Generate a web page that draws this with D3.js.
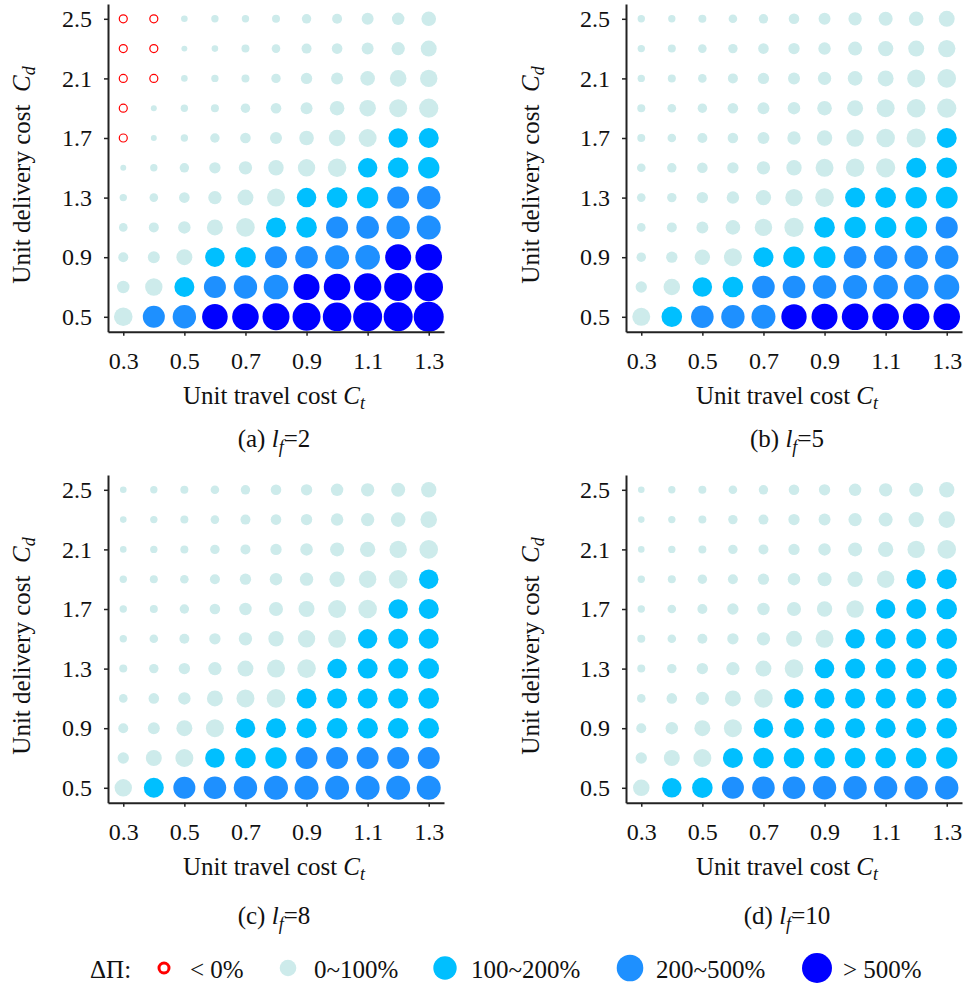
<!DOCTYPE html>
<html>
<head>
<meta charset="utf-8">
<script src="https://cdn.jsdelivr.net/npm/d3@7"></script>
<style>
  body { margin: 0; background: #fff; }
  svg text { font-family: "Liberation Serif", "Times New Roman", serif; fill: #111; }
</style>
</head>
<body>
<svg id="chart" width="964" height="990"></svg>
<script>
const travelCost = [0.3, 0.4, 0.5, 0.6, 0.7, 0.8, 0.9, 1.0, 1.1, 1.2, 1.3];
const deliveryCost = [2.5, 2.3, 2.1, 1.9, 1.7, 1.5, 1.3, 1.1, 0.9, 0.7, 0.5];
const travelTicks = [0.3, 0.5, 0.7, 0.9, 1.1, 1.3];
const deliveryTicks = [0.5, 0.9, 1.3, 1.7, 2.1, 2.5];

// profit gain ΔΠ (%), one row per delivery cost, top row is Cd = 2.5
const gainLf2 = [
  [-12, -8, 3.0, 3.7, 3.7, 4.4, 6.5, 7.6, 13, 15, 27],
  [-10, -6, 2.5, 3.0, 4.4, 5.2, 7.6, 9.0, 13, 19, 39],
  [-8, -4, 3.0, 3.7, 4.4, 6.5, 11, 13, 27, 46, 58],
  [-5, 2.5, 3.7, 4.4, 6.5, 9.0, 13, 27, 46, 68, 95],
  [-3, 2.5, 3.7, 6.5, 9.0, 13, 27, 46, 68, 102, 118],
  [2.5, 3.7, 6.5, 11, 19, 33, 58, 80, 102, 139, 173],
  [3.7, 5.2, 9.0, 19, 39, 68, 102, 139, 173, 205, 299],
  [5.2, 7.6, 15, 39, 80, 118, 139, 205, 240, 299, 353],
  [7.6, 13, 39, 102, 139, 205, 240, 353, 416, 611, 719],
  [15, 58, 118, 205, 299, 416, 611, 719, 896, 1056, 1245],
  [80, 205, 299, 547, 719, 803, 1056, 1245, 1390, 1390, 1828]
];
const gainLf5 = [
  [3.7, 3.7, 4.4, 5.2, 6.5, 9.0, 13, 19, 23, 27, 39],
  [3.7, 4.4, 5.2, 6.5, 9.0, 11, 15, 23, 33, 39, 58],
  [3.7, 4.4, 5.2, 7.6, 11, 13, 19, 27, 39, 68, 80],
  [4.4, 5.2, 6.5, 9.0, 13, 15, 27, 39, 68, 80, 95],
  [4.4, 5.2, 7.6, 9.0, 13, 19, 33, 58, 80, 95, 118],
  [5.2, 6.5, 9.0, 11, 19, 33, 68, 80, 95, 118, 139],
  [5.2, 6.5, 11, 15, 33, 58, 80, 118, 139, 173, 195],
  [5.2, 7.6, 13, 27, 58, 95, 139, 173, 173, 195, 205],
  [6.5, 11, 33, 68, 118, 173, 195, 240, 299, 299, 299],
  [11, 46, 102, 139, 240, 240, 299, 353, 416, 416, 480],
  [68, 139, 240, 299, 353, 510, 611, 719, 719, 719, 719]
];
const gainLf8 = [
  [3.0, 3.7, 4.4, 5.2, 6.5, 9.0, 11, 15, 19, 23, 33],
  [3.0, 3.7, 4.4, 5.2, 7.6, 9.0, 11, 15, 19, 27, 46],
  [3.0, 3.7, 4.4, 6.5, 7.6, 11, 15, 23, 33, 58, 80],
  [3.7, 4.4, 5.2, 7.6, 11, 15, 19, 33, 58, 80, 102],
  [3.7, 4.4, 6.5, 9.0, 15, 23, 39, 68, 80, 102, 118],
  [3.7, 5.2, 7.6, 11, 19, 33, 58, 68, 102, 118, 118],
  [4.4, 6.5, 11, 19, 39, 68, 80, 102, 118, 118, 139],
  [5.2, 9.0, 15, 39, 68, 80, 118, 118, 118, 118, 139],
  [7.6, 13, 39, 68, 102, 118, 118, 139, 139, 139, 139],
  [11, 39, 68, 102, 139, 173, 205, 205, 205, 205, 205],
  [58, 118, 205, 240, 299, 353, 353, 353, 353, 353, 353]
];
const gainLf10 = [
  [3.0, 3.7, 4.4, 5.2, 6.5, 9.0, 11, 15, 19, 23, 33],
  [3.0, 3.7, 4.4, 6.5, 7.6, 11, 13, 19, 23, 33, 46],
  [3.0, 3.7, 4.4, 6.5, 7.6, 11, 15, 23, 33, 58, 80],
  [3.7, 4.4, 6.5, 7.6, 11, 15, 23, 33, 58, 102, 118],
  [3.7, 5.2, 7.6, 11, 15, 23, 33, 58, 102, 118, 139],
  [4.4, 5.2, 7.6, 11, 19, 39, 68, 102, 118, 118, 139],
  [4.4, 6.5, 11, 19, 39, 80, 102, 118, 118, 118, 139],
  [5.2, 9.0, 19, 39, 80, 102, 118, 118, 118, 118, 118],
  [7.6, 15, 39, 68, 102, 118, 118, 118, 118, 118, 139],
  [11, 39, 68, 118, 139, 139, 139, 139, 139, 139, 173],
  [46, 102, 139, 205, 240, 240, 299, 299, 299, 299, 299]
];

const panelTags = ['(a)', '(b)', '(c)', '(d)'];
const lfValues = [2, 5, 8, 10];
const panelGains = [gainLf2, gainLf5, gainLf8, gainLf10];
const bandLimits = [0, 100, 200, 500];
const bandLabels = ['< 0%', '0~100%', '100~200%', '200~500%', '> 500%'];

const bandColors = ['#ff0000', '#cdebeb', '#00bfff', '#1e90ff', '#0000ff'];
const color = d3.scaleThreshold().domain(bandLimits).range(bandColors);
const radius = d3.scaleLog().domain([1, 1000]).range([1.3, 13.9]);
const fmt = d3.format('.1f');

const svg = d3.select('#chart');

const colX = [0, 518];
const rowY = [0, 471];
const xTitleX = [274, 787];
const yTitleX = [30, 539];
const captionY = [447, 924];

function styleAxis(sel) {
  sel.attr('font-family', null).attr('font-size', 24);
  sel.select('.domain').attr('stroke', '#222').attr('stroke-width', 2);
  sel.selectAll('.tick line').attr('stroke', '#222').attr('stroke-width', 1.5);
  sel.selectAll('.tick text').attr('fill', '#111');
}

panelGains.forEach((gain, i) => {
  const col = i % 2, row = Math.floor(i / 2);
  const ox = colX[col], oy = rowY[row];
  const x = d3.scaleLinear().domain([0.25, 1.35]).range([108 + ox, 444 + ox]);
  const y = d3.scaleLinear().domain([0.4, 2.6]).range([331.7 + oy, 3.9 + oy]);
  const g = svg.append('g');

  const cells = [];
  gain.forEach((r, ri) => r.forEach((v, ci) => {
    cells.push({ ct: travelCost[ci], cd: deliveryCost[ri], v: v });
  }));

  g.append('g').selectAll('circle')
    .data(cells)
    .join('circle')
    .attr('cx', d => x(d.ct))
    .attr('cy', d => y(d.cd))
    .attr('r', d => d.v < 0 ? 4 : radius(d.v))
    .attr('fill', d => d.v < 0 ? 'none' : color(d.v))
    .attr('stroke', d => d.v < 0 ? color(d.v) : null)
    .attr('stroke-width', d => d.v < 0 ? 1.2 : null);

  g.append('g')
    .attr('transform', `translate(0,${331.7 + oy})`)
    .call(d3.axisBottom(x).tickValues(travelTicks).tickFormat(fmt)
      .tickSize(4).tickSizeOuter(0).tickPadding(16))
    .call(styleAxis);

  g.append('g')
    .attr('transform', `translate(${108 + ox},0)`)
    .call(d3.axisLeft(y).tickValues(deliveryTicks).tickFormat(fmt)
      .tickSize(4).tickSizeOuter(0).tickPadding(12))
    .call(styleAxis);

  // x title
  const xt = g.append('text')
    .attr('x', xTitleX[col])
    .attr('y', 404 + oy)
    .attr('text-anchor', 'middle')
    .attr('font-size', 25);
  xt.append('tspan').text('Unit travel cost ');
  xt.append('tspan').attr('font-style', 'italic').text('C');
  xt.append('tspan').attr('font-style', 'italic').attr('font-size', 18).attr('dy', 5).text('t');

  // y title
  const yt = g.append('text')
    .attr('transform', `translate(${yTitleX[col]},${175 + oy}) rotate(-90)`)
    .attr('text-anchor', 'middle')
    .attr('font-size', 25);
  yt.append('tspan').text('Unit delivery cost\u00a0\u00a0');
  yt.append('tspan').attr('font-style', 'italic').text('C');
  yt.append('tspan').attr('font-style', 'italic').attr('font-size', 18).attr('dy', 5).text('d');

  // caption
  const cap = g.append('text')
    .attr('x', xTitleX[col])
    .attr('y', captionY[row])
    .attr('text-anchor', 'middle')
    .attr('font-size', 25);
  cap.append('tspan').text(panelTags[i] + ' ');
  cap.append('tspan').attr('font-style', 'italic').text('l');
  cap.append('tspan').attr('font-style', 'italic').attr('font-size', 18).attr('dy', 6).text('f');
  cap.append('tspan').attr('dy', -6).text('=' + lfValues[i]);
});

// legend
const legend = svg.append('g');
legend.append('text')
  .attr('x', 90).attr('y', 978)
  .attr('font-size', 25)
  .text('ΔΠ:');

const legendX = [164, 288, 445, 630, 817];
const legendR = [5, 8.3, 11.7, 13.3, 15];
const item = legend.selectAll('g.item')
  .data(bandLabels)
  .join('g')
  .attr('class', 'item')
  .attr('transform', (d, i) => `translate(${legendX[i]},968)`);

item.append('circle')
  .attr('r', (d, i) => legendR[i])
  .attr('fill', (d, i) => i === 0 ? 'none' : bandColors[i])
  .attr('stroke', (d, i) => i === 0 ? bandColors[0] : null)
  .attr('stroke-width', (d, i) => i === 0 ? 3 : null);

item.append('text')
  .attr('x', 26).attr('y', 10)
  .attr('font-size', 25)
  .text(d => d);
</script>
</body>
</html>
